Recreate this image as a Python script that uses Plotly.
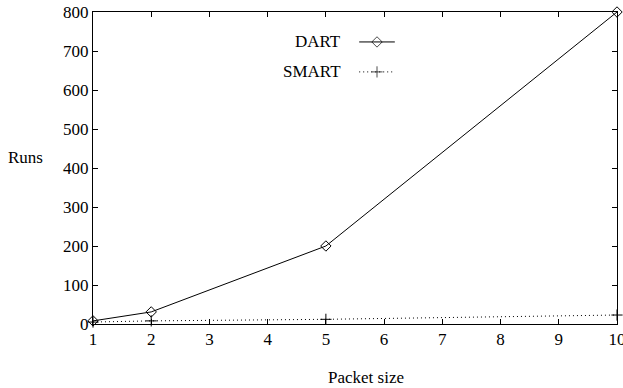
import plotly.graph_objects as go

packet_size = [1, 2, 5, 10]
dart_runs = [8, 31, 200, 800]
smart_runs = [5, 8, 12, 23]
x_ticks = [1, 2, 3, 4, 5, 6, 7, 8, 9, 10]
y_ticks = [0, 100, 200, 300, 400, 500, 600, 700, 800]

FONT = "Liberation Serif"
FS = 17
DOT = "1px,3px"
fig = go.Figure()
fig.add_trace(go.Scatter(x=packet_size, y=dart_runs, mode="lines+markers", name="DART",
                         line=dict(color="black", width=1),
                         marker=dict(symbol="diamond-open", size=8, color="black", line=dict(width=1)),
                         cliponaxis=False, showlegend=False))
fig.add_trace(go.Scatter(x=packet_size, y=smart_runs, mode="lines+markers", name="SMART",
                         line=dict(color="black", width=1, dash=DOT),
                         marker=dict(symbol="cross-thin-open", size=8, color="black", line=dict(width=1, color="black")),
                         cliponaxis=False, showlegend=False))

# legend keys (gnuplot style: text then sample) on a hidden overlay axis in paper-like units
fig.add_trace(go.Scatter(x=[0.508, 0.542, 0.576], y=[0.904] * 3, xaxis="x2", yaxis="y2", mode="lines+markers",
                         line=dict(color="black", width=1),
                         marker=dict(symbol="diamond-open", size=[0, 8, 0], color="black", line=dict(width=1)),
                         showlegend=False, hoverinfo="skip", cliponaxis=False))
fig.add_trace(go.Scatter(x=[0.508, 0.542, 0.572], y=[0.808] * 3, xaxis="x2", yaxis="y2", mode="lines+markers",
                         line=dict(color="black", width=1, dash=DOT),
                         marker=dict(symbol="cross-thin-open", size=[0, 8, 0], color="black", line=dict(width=1, color="black")),
                         showlegend=False, hoverinfo="skip", cliponaxis=False))

txt = dict(family=FONT, size=FS, color="black")
fig.add_annotation(x=0.477, y=0.904, xref="paper", yref="paper", text="DART", showarrow=False,
                   xanchor="right", yanchor="middle", font=txt)
fig.add_annotation(x=0.477, y=0.808, xref="paper", yref="paper", text="SMART", showarrow=False,
                   xanchor="right", yanchor="middle", font=txt)
fig.add_annotation(x=0.521, y=-0.173, xref="paper", yref="paper", text="Packet size", showarrow=False,
                   xanchor="center", yanchor="middle", font=txt)
fig.add_annotation(x=-0.128, y=0.535, xref="paper", yref="paper", text="Runs", showarrow=False,
                   xanchor="center", yanchor="middle", font=txt)

axis_common = dict(showgrid=False, zeroline=False, showline=True, linecolor="black", linewidth=1,
                   mirror="allticks", ticks="inside", ticklen=5, tickcolor="black", tickwidth=1,
                   ticklabeloverflow="allow", automargin=False, tickfont=txt)
fig.update_layout(
    width=623, height=388,
    margin=dict(l=93, r=6, t=12, b=64, autoexpand=False),
    plot_bgcolor="white", paper_bgcolor="white",
    font=txt,
    xaxis=dict(range=[1, 10], tickvals=x_ticks, ticktext=[str(v) for v in x_ticks], **axis_common),
    yaxis=dict(range=[0, 800], tickvals=y_ticks, ticktext=[str(v) for v in y_ticks], **axis_common),
    xaxis2=dict(range=[0, 1], overlaying="x", visible=False),
    yaxis2=dict(range=[0, 1], overlaying="y", visible=False),
    showlegend=False,
)
fig.write_html("out.html", config={"displayModeBar": False},
               post_script="document.body.style.margin='0';document.body.style.overflow='hidden';")
